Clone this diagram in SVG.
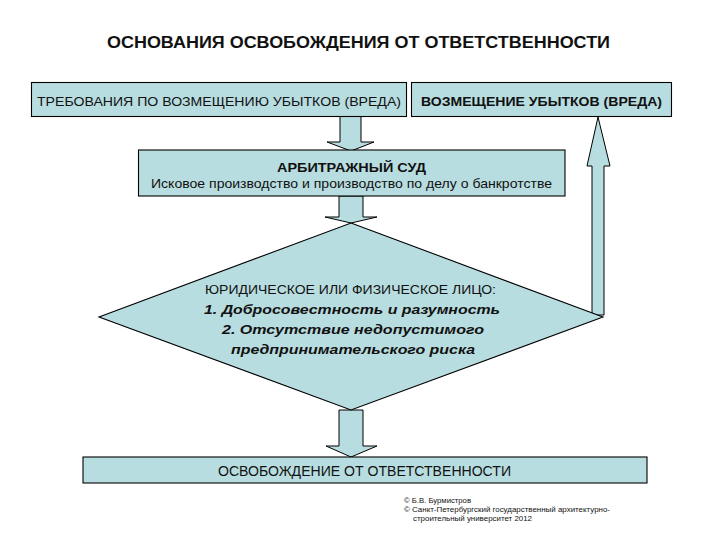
<svg xmlns="http://www.w3.org/2000/svg" width="720" height="540" viewBox="0 0 720 540">
<style>
.box{fill:#b8dde0;stroke:#000;stroke-width:1.1}
.arr{fill:#b8dde0;stroke:#000;stroke-width:1}
text{font-family:"Liberation Sans",Arial,sans-serif;fill:#111}
.b{font-weight:bold}
.bi{font-weight:bold;font-style:italic}
.c{text-anchor:middle}
.sm{font-size:8px}
</style>
<rect width="720" height="540" fill="#fff"/>
<text id="title" class="b" x="107" y="48" font-size="16" textLength="503" lengthAdjust="spacingAndGlyphs">ОСНОВАНИЯ ОСВОБОЖДЕНИЯ ОТ ОТВЕТСТВЕННОСТИ</text>
<g id="connectors">
<polygon class="arr" points="340,116 361,116 361,142 374,142 351,151 327,142 340,142"/>
<polygon class="arr" points="339,196 363,196 363,217 377,217 351,223 325,217 339,217"/>
<polygon class="arr" points="339,410 363,410 363,446 377,446 351,457 326,446 339,446"/>
<polygon class="arr" points="592,315 604,315 604,166 610,166 598,117 587,166 592,166"/>
</g>
<g id="node-claims">
<rect class="box" x="31.5" y="82.5" width="375" height="34"/>
<text x="37" y="106" font-size="13.5" textLength="364" lengthAdjust="spacingAndGlyphs">ТРЕБОВАНИЯ ПО ВОЗМЕЩЕНИЮ УБЫТКОВ (ВРЕДА)</text>
</g>
<g id="node-compensation">
<rect class="box" x="411.5" y="82.5" width="260" height="34"/>
<text class="b" x="421" y="106" font-size="12" textLength="241" lengthAdjust="spacingAndGlyphs">ВОЗМЕЩЕНИЕ УБЫТКОВ (ВРЕДА)</text>
</g>
<g id="node-court">
<rect class="box" x="138.5" y="150" width="426.5" height="46"/>
<text class="b" x="277" y="172" font-size="13" textLength="149" lengthAdjust="spacingAndGlyphs">АРБИТРАЖНЫЙ СУД</text>
<text x="151" y="188" font-size="13" textLength="401" lengthAdjust="spacingAndGlyphs">Исковое производство и производство по делу о банкротстве</text>
</g>
<g id="node-decision">
<polygon class="box" points="351,223 603,317 351,410 99,317"/>
<text x="205" y="294" font-size="12.5" textLength="291" lengthAdjust="spacingAndGlyphs">ЮРИДИЧЕСКОЕ ИЛИ ФИЗИЧЕСКОЕ ЛИЦО:</text>
<text class="bi" x="204" y="314" font-size="13.5" textLength="296" lengthAdjust="spacingAndGlyphs">1. Добросовестность и разумность</text>
<text class="bi" x="222" y="334" font-size="13.5" textLength="262" lengthAdjust="spacingAndGlyphs">2. Отсутствие недопустимого</text>
<text class="bi" x="231" y="354" font-size="13.5" textLength="244" lengthAdjust="spacingAndGlyphs">предпринимательского риска</text>
</g>
<g id="node-release">
<rect class="box" x="83" y="457" width="564" height="26"/>
<text x="218" y="476" font-size="14" textLength="293" lengthAdjust="spacingAndGlyphs">ОСВОБОЖДЕНИЕ ОТ ОТВЕТСТВЕННОСТИ</text>
</g>
<g id="copyright">
<text class="sm" x="404" y="503" textLength="67" lengthAdjust="spacingAndGlyphs">© Б.В. Бурмистров</text>
<text class="sm" x="404" y="512" textLength="206" lengthAdjust="spacingAndGlyphs">© Санкт-Петербургский государственный архитектурно-</text>
<text class="sm" x="413" y="521" textLength="119" lengthAdjust="spacingAndGlyphs">строительный университет 2012</text>
</g>
</svg>
